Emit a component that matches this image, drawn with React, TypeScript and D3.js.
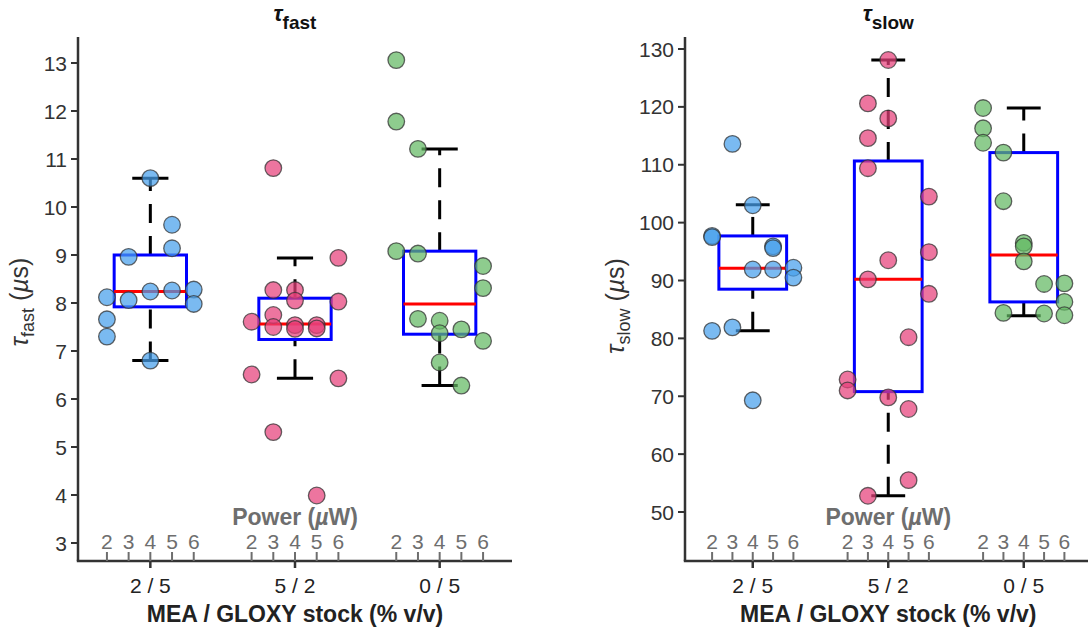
import React from "react";
import * as d3 from "d3";

// ---------- data ----------
const groupLabels = ["2 / 5", "5 / 2", "0 / 5"];
const powerTicks = [2, 3, 4, 5, 6];
const groupColors = ["#46A0EB", "#E6407A", "#62B862"];

// [power (µW), value]
const fastGroup1 = [[2, 8.12], [2, 7.66], [2, 7.3], [3, 8.96], [3, 8.06], [4, 10.6], [4, 8.24], [4, 6.8], [5, 9.63], [5, 9.14], [5, 8.26], [6, 8.28], [6, 7.98]];
const fastGroup2 = [[2, 7.61], [2, 6.51], [3, 10.81], [3, 8.27], [3, 7.75], [3, 7.5], [3, 5.31], [4, 8.27], [4, 8.05], [4, 7.54], [4, 7.46], [5, 7.54], [5, 7.47], [5, 3.99], [6, 8.94], [6, 8.03], [6, 6.43]];
const fastGroup3 = [[2, 13.06], [2, 11.78], [2, 9.08], [3, 11.21], [3, 9.03], [3, 7.67], [4, 7.63], [4, 7.37], [4, 6.76], [5, 7.45], [5, 6.28], [6, 8.77], [6, 8.31], [6, 7.21]];

const slowGroup1 = [[2, 97.7], [2, 97.5], [2, 81.3], [3, 113.6], [3, 81.9], [4, 103.0], [4, 91.9], [4, 69.3], [5, 95.9], [5, 95.6], [5, 91.9], [6, 92.2], [6, 90.5]];
const slowGroup2 = [[2, 72.9], [2, 71.0], [3, 120.6], [3, 114.6], [3, 109.4], [3, 90.2], [3, 52.8], [4, 128.1], [4, 118.0], [4, 93.5], [4, 69.8], [5, 80.2], [5, 67.8], [5, 55.5], [6, 104.5], [6, 94.9], [6, 87.7]];
const slowGroup3 = [[2, 119.8], [2, 116.3], [2, 113.8], [3, 112.1], [3, 103.7], [3, 84.4], [4, 96.5], [4, 95.9], [4, 93.3], [5, 89.4], [5, 84.3], [6, 89.5], [6, 86.3], [6, 84.0]];

// [lower whisker, q1, median, q3, upper whisker]
const fastBoxes = [[6.8, 7.92, 8.24, 9.0, 10.6], [6.43, 7.24, 7.56, 8.1, 8.94], [6.28, 7.35, 7.98, 9.08, 11.21]];
const slowBoxes = [[81.3, 88.5, 92.1, 97.7, 103.1], [52.8, 70.8, 90.2, 110.65, 128.1], [83.9, 86.3, 94.4, 112.1, 119.8]];

const fastTicks = [3, 4, 5, 6, 7, 8, 9, 10, 11, 12, 13];
const slowTicks = [50, 60, 70, 80, 90, 100, 110, 120, 130];

const FONT = "'Liberation Sans', Arial, Helvetica, sans-serif";

type PanelProps = {
  x0: number;
  x1: number;
  yDomain: [number, number];
  ticks: number[];
  groups: number[][][];
  boxes: number[][];
  sub: string;
  labelX: number;
  labelY: number;
};

const Y_BOTTOM = 561;
const Y_TOP = 37;

function Panel({ x0, x1, yDomain, ticks, groups, boxes, sub, labelX, labelY }: PanelProps) {
  const xs = d3.scaleLinear().domain([0.5, 3.5]).range([x0, x1]);
  const ys = d3.scaleLinear().domain(yDomain).range([Y_BOTTOM, Y_TOP]);
  const px = (g: number, p: number) => xs(g + 1 + (p - 4) * 0.15);
  const mid = xs(2);
  const axisColor = "#333";
  const grey = "#6e6e6e";
  return (
    <g fontFamily={FONT}>
      {/* title */}
      <text x={mid} y={21} textAnchor="middle" fontWeight="bold" fill="#111">
        <tspan fontStyle="italic" fontSize={22}>τ</tspan>
        <tspan fontSize={19} dy={8}>{sub}</tspan>
      </text>
      {/* y label */}
      <text transform={`translate(${labelX},${labelY}) rotate(-90)`} textAnchor="middle" fill="#333" fontSize={25}>
        <tspan fontStyle="italic">τ</tspan>
        <tspan fontSize={18} dy={6}>{sub}</tspan>
        <tspan dy={-6}> (</tspan>
        <tspan fontStyle="italic">µ</tspan>
        <tspan>s)</tspan>
      </text>
      {/* axes */}
      <line x1={x0} x2={x0} y1={Y_TOP} y2={Y_BOTTOM} stroke={axisColor} strokeWidth={2.5} />
      <line x1={x0 - 1.2} x2={Math.min(x1, 1100)} y1={Y_BOTTOM} y2={Y_BOTTOM} stroke={axisColor} strokeWidth={2.5} />
      {ticks.map((t) => (
        <g key={t}>
          <line x1={x0 - 7} x2={x0} y1={ys(t)} y2={ys(t)} stroke={axisColor} strokeWidth={2} />
          <text x={x0 - 11} y={ys(t)} dy="0.36em" textAnchor="end" fontSize={21} fill="#333">{t}</text>
        </g>
      ))}
      {groupLabels.map((lab, gi) => (
        <g key={lab}>
          <line x1={xs(gi + 1)} x2={xs(gi + 1)} y1={Y_BOTTOM} y2={Y_BOTTOM + 7} stroke={axisColor} strokeWidth={2.5} />
          <text x={xs(gi + 1)} y={593} textAnchor="middle" fontSize={21} fill="#222">{lab}</text>
          {powerTicks.map((p) => (
            <g key={p}>
              <line x1={px(gi, p)} x2={px(gi, p)} y1={Y_BOTTOM} y2={Y_BOTTOM - 9} stroke={grey} strokeWidth={2} />
              <text x={px(gi, p)} y={549} textAnchor="middle" fontSize={21} fill={grey}>{p}</text>
            </g>
          ))}
        </g>
      ))}
      <text x={mid} y={525} textAnchor="middle" fontSize={23} fontWeight="bold" fill={grey}>
        Power (<tspan fontStyle="italic">µ</tspan>W)
      </text>
      <text x={mid} y={622} textAnchor="middle" fontSize={23} fontWeight="bold" fill="#222">
        MEA / GLOXY stock (% v/v)
      </text>
      {/* boxes */}
      {boxes.map((b, gi) => {
        const cx = xs(gi + 1);
        const hw = xs(1.25) - xs(1);
        const cw = xs(1.125) - xs(1);
        const [lo, q1, med, q3, hi] = b;
        return (
          <g key={gi}>
            <line x1={cx} x2={cx} y1={ys(lo)} y2={ys(q1)} stroke="#000" strokeWidth={3} strokeDasharray="19 13" />
            <line x1={cx} x2={cx} y1={ys(q3)} y2={ys(hi)} stroke="#000" strokeWidth={3} strokeDasharray="19 13" />
            <line x1={cx - cw} x2={cx + cw} y1={ys(lo)} y2={ys(lo)} stroke="#000" strokeWidth={3} />
            <line x1={cx - cw} x2={cx + cw} y1={ys(hi)} y2={ys(hi)} stroke="#000" strokeWidth={3} />
            <rect x={cx - hw} y={ys(q3)} width={2 * hw} height={ys(q1) - ys(q3)} fill="none" stroke="#0000FF" strokeWidth={3} />
            <line x1={cx - hw} x2={cx + hw} y1={ys(med)} y2={ys(med)} stroke="#FF0000" strokeWidth={3} />
          </g>
        );
      })}
      {/* points */}
      {groups.map((pts, gi) =>
        pts.map(([p, v], i) => (
          <circle
            key={`${gi}-${i}`}
            cx={px(gi, p)}
            cy={ys(v)}
            r={8.3}
            fill={groupColors[gi]}
            fillOpacity={0.72}
            stroke="#333"
            strokeOpacity={0.75}
            strokeWidth={1.3}
          />
        ))
      )}
    </g>
  );
}

export default function App() {
  return (
    <svg
      width={1088}
      height={631}
      style={{ position: "absolute", left: 0, top: 0, background: "#fff" }}
    >
      <rect width={1088} height={631} fill="#fff" />
      <Panel
        x0={78}
        x1={512}
        yDomain={[3 - 18 / 48, 3 + 506 / 48]}
        ticks={fastTicks}
        groups={[fastGroup1, fastGroup2, fastGroup3]}
        boxes={fastBoxes}
        sub="fast"
        labelX={28}
        labelY={302}
      />
      <Panel
        x0={685}
        x1={1091.5}
        yDomain={[50 - 49 / 5.7875, 50 + 475 / 5.7875]}
        ticks={slowTicks}
        groups={[slowGroup1, slowGroup2, slowGroup3]}
        boxes={slowBoxes}
        sub="slow"
        labelX={624}
        labelY={306}
      />
    </svg>
  );
}
